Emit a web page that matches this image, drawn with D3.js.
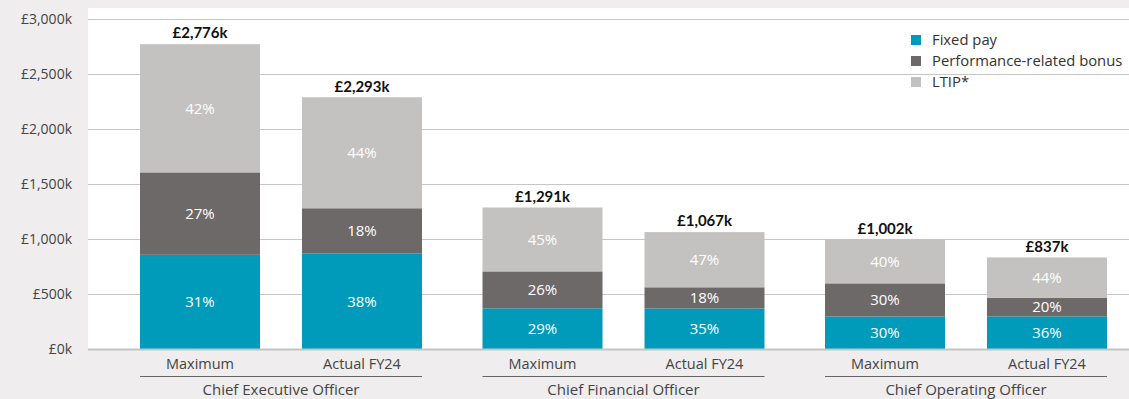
<!DOCTYPE html>
<html>
<head>
<meta charset="utf-8">
<script src="https://cdn.jsdelivr.net/npm/d3@7"></script>
<style>
  html, body { margin: 0; padding: 0; background: #efedee; }
  svg { display: block; font-family: "Open Sans", Lato, sans-serif; }
</style>
</head>
<body>
<svg id="chart" width="1129" height="399"></svg>
<script>
// Executive roles and the two pay scenarios shown for each
const roles = ["Chief Executive Officer", "Chief Financial Officer", "Chief Operating Officer"];
const scenarios = ["Maximum", "Actual FY24"];

// Total remuneration (£k), one per role/scenario, in role order
const totals = [2776, 2293, 1291, 1067, 1002, 837];

// Share of each total (%) by component
const fixedPct = [31, 38, 29, 35, 30, 36];
const bonusPct = [27, 18, 26, 18, 30, 20];
const ltipPct  = [42, 44, 45, 47, 40, 44];

const componentNames = ["Fixed pay", "Performance-related bonus", "LTIP*"];
const componentColors = ["#009bbb", "#6d6969", "#c3c2c0"];

const yTicks = [0, 500, 1000, 1500, 2000, 2500, 3000];

const svg = d3.select("#chart");
const plot = { left: 88, right: 1129, top: 8, bottom: 349.5 };

// Build rows for stacking
const rows = totals.map((t, i) => ({
  role: roles[Math.floor(i / 2)],
  scenario: scenarios[i % 2],
  total: t,
  pct: [fixedPct[i], bonusPct[i], ltipPct[i]],
  vals: [t * fixedPct[i] / 100, t * bonusPct[i] / 100, t * ltipPct[i] / 100]
}));

const y = d3.scaleLinear().domain([0, 3000]).range([349.5, 19.5]);

const groupStep = 342.5, innerPad = 60.5 / 342.5;
const x0 = d3.scaleBand().domain(roles)
  .range([140 - groupStep * innerPad / 2, 140 - groupStep * innerPad / 2 + groupStep * 3])
  .paddingInner(innerPad).paddingOuter(innerPad / 2);
const x1 = d3.scaleBand().domain(scenarios)
  .range([0, x0.bandwidth()])
  .paddingInner(2 - x0.bandwidth() / 162).paddingOuter(0);

// White plotting panel
svg.append("rect")
  .attr("x", plot.left).attr("y", plot.top)
  .attr("width", plot.right - plot.left).attr("height", plot.bottom - plot.top)
  .attr("fill", "#ffffff");

// Gridlines
svg.append("g").selectAll("line")
  .data(yTicks.filter(d => d > 0))
  .join("line")
  .attr("x1", plot.left).attr("x2", plot.right)
  .attr("y1", d => y(d)).attr("y2", d => y(d))
  .attr("stroke", "#c6c6c6").attr("stroke-width", 1);

// Y axis labels
const fmt = d3.format(",");
svg.append("g").selectAll("text")
  .data(yTicks)
  .join("text")
  .attr("x", 72).attr("y", d => y(d))
  .attr("dy", "0.35em")
  .attr("text-anchor", "end")
  .attr("fill", "#444")
  .attr("font-size", 14)
  .text(d => "£" + fmt(d) + "k");

// Stacked bars
const stack = d3.stack().keys([0, 1, 2]).value((d, k) => d.vals[k]);
const series = stack(rows);

const barX = d => x0(d.role) + x1(d.scenario);

series.forEach((s, k) => {
  const g = svg.append("g");
  g.selectAll("rect")
    .data(s)
    .join("rect")
    .attr("x", d => barX(d.data))
    .attr("width", x1.bandwidth())
    .attr("y", d => y(d[1]))
    .attr("height", d => y(d[0]) - y(d[1]))
    .attr("fill", componentColors[k]);
  g.selectAll("text")
    .data(s)
    .join("text")
    .attr("x", d => barX(d.data) + x1.bandwidth() / 2)
    .attr("y", d => (y(d[0]) + y(d[1])) / 2)
    .attr("dy", "0.35em")
    .attr("text-anchor", "middle")
    .attr("fill", "#ffffff")
    .attr("font-size", 15)
    .text(d => d.data.pct[k] + "%");
});

// Bottom axis line
svg.append("line")
  .attr("x1", plot.left).attr("x2", plot.right)
  .attr("y1", 349.5).attr("y2", 349.5)
  .attr("stroke", "#c4c4c4").attr("stroke-width", 2);

// Totals above bars
svg.append("g").selectAll("text")
  .data(rows)
  .join("text")
  .attr("x", d => barX(d) + x1.bandwidth() / 2)
  .attr("y", d => y(d.total) - 11)
  .attr("dy", "0.35em")
  .attr("text-anchor", "middle")
  .attr("fill", "#111")
  .attr("font-family", "Lato, sans-serif")
  .attr("font-size", 15)
  .attr("font-weight", 700)
  .text(d => "£" + fmt(d.total) + "k");

// Scenario labels
svg.append("g").selectAll("text")
  .data(rows)
  .join("text")
  .attr("x", d => barX(d) + x1.bandwidth() / 2)
  .attr("y", 364)
  .attr("dy", "0.35em")
  .attr("text-anchor", "middle")
  .attr("fill", "#444")
  .attr("font-size", 14.5)
  .text(d => d.scenario);

// Role brackets and labels
const rg = svg.append("g").selectAll("g").data(roles).join("g");
rg.append("line")
  .attr("x1", d => x0(d)).attr("x2", d => x0(d) + x0.bandwidth())
  .attr("y1", 376.5).attr("y2", 376.5)
  .attr("stroke", "#666").attr("stroke-width", 1.2);
rg.append("text")
  .attr("x", d => x0(d) + x0.bandwidth() / 2)
  .attr("y", 390)
  .attr("dy", "0.35em")
  .attr("text-anchor", "middle")
  .attr("fill", "#444")
  .attr("font-size", 15)
  .text(d => d);

// Legend
const lg = svg.append("g").attr("transform", "translate(911,35)")
  .selectAll("g").data(componentNames).join("g")
  .attr("transform", (d, i) => `translate(0,${i * 21})`);
lg.append("rect").attr("width", 10).attr("height", 10)
  .attr("fill", (d, i) => componentColors[i]);
lg.append("text").attr("x", 21).attr("y", 5).attr("dy", "0.35em")
  .attr("fill", "#333").attr("font-size", 14.8)
  .text(d => d);
</script>
</body>
</html>
